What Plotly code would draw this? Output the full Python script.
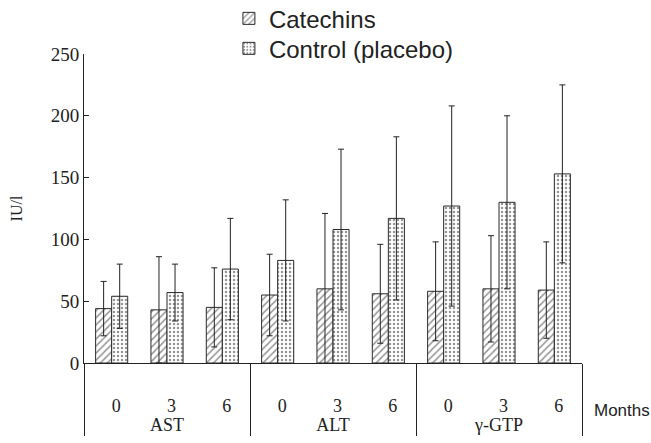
import plotly.graph_objects as go

tests = ["AST", "AST", "AST", "ALT", "ALT", "ALT", "γ-GTP", "γ-GTP", "γ-GTP"]
months = ["0", "3", "6", "0", "3", "6", "0", "3", "6"]

catechins = [44, 43, 45, 55, 60, 56, 58, 60, 59]
catechins_sd = [22, 43, 32, 33, 61, 40, 40, 43, 39]
control = [54, 57, 76, 83, 108, 117, 127, 130, 153]
control_sd = [26, 23, 41, 49, 65, 66, 81, 70, 72]

serif = "Liberation Serif, Times New Roman, serif"
sans = "Liberation Sans, Arial, sans-serif"
edge = "#2a2a2a"

fig = go.Figure()
fig.add_trace(go.Bar(
    name="Catechins",
    x=[tests, months], y=catechins,
    legend="legend",
    marker=dict(color="white", line=dict(color=edge, width=1),
                pattern=dict(shape="/", fgcolor="#2a2a2a", bgcolor="white", size=5, solidity=0.3)),
    error_y=dict(type="data", array=catechins_sd, symmetric=True, color="#222222", thickness=1, width=3),
))
fig.add_trace(go.Bar(
    name="Control (placebo)",
    x=[tests, months], y=control,
    legend="legend2",
    marker=dict(color="white", line=dict(color=edge, width=1),
                pattern=dict(shape=".", fgcolor="#2a2a2a", bgcolor="white", size=4, solidity=0.3)),
    error_y=dict(type="data", array=control_sd, symmetric=True, color="#222222", thickness=1, width=3),
))

legend_common = dict(xanchor="left", yanchor="middle",
                     font=dict(family=sans, size=24, color="#222222"),
                     bgcolor="rgba(0,0,0,0)")

fig.update_layout(
    width=651, height=443,
    margin=dict(l=84, r=69, t=54, b=80, autoexpand=False),
    paper_bgcolor="white", plot_bgcolor="white",
    barmode="group", bargap=0.42, bargroupgap=0,
    showlegend=True,
    legend=dict(x=0.291, y=1.114, **legend_common),
    legend2=dict(x=0.291, y=1.017, **legend_common),
    font=dict(family=serif, size=18, color="#222222"),
)
fig.update_xaxes(
    type="multicategory", automargin=False,
    showline=True, linecolor="#222222", linewidth=1,
    showdividers=True, dividercolor="#222222", dividerwidth=1,
    ticks="", ticklabelstandoff=26, tickangle=0.01,
    tickfont=dict(family=serif, size=18, color="#222222"),
    showgrid=False, zeroline=False,
)
fig.update_yaxes(
    range=[0, 250], dtick=50, automargin=False,
    showline=True, linecolor="#222222", linewidth=1,
    ticks="inside", ticklen=5, tickcolor="#222222",
    tickfont=dict(family=serif, size=19, color="#222222"),
    showgrid=False, zeroline=False,
    title=dict(text="IU/l", font=dict(family=serif, size=16, color="#222222"), standoff=24),
)
fig.add_annotation(
    text="Months", xref="paper", yref="paper", x=1.02, y=-0.155,
    xanchor="left", yanchor="middle", showarrow=False,
    font=dict(family=sans, size=17, color="#222222"),
)

fig.write_html("out.html", config={"displayModeBar": False},
               post_script="document.body.style.margin='0';")
